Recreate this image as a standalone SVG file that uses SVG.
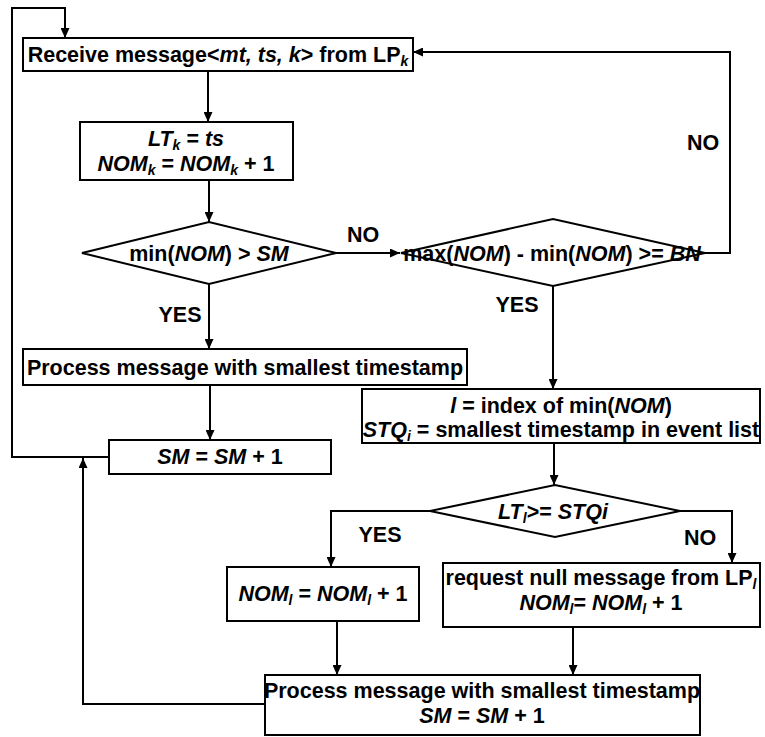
<svg xmlns="http://www.w3.org/2000/svg" width="765" height="737" viewBox="0 0 765 737">
<style>
.t{font-family:"Liberation Sans",Arial,Helvetica,sans-serif;font-size:21.5px;font-weight:bold;fill:#000;text-anchor:middle}
.i{font-style:italic}
.s{font-size:14px}
.box{fill:#fff;stroke:#000;stroke-width:2}
.ln{fill:none;stroke:#000;stroke-width:2}
.ar{marker-end:url(#ah)}
</style>
<defs>
<marker id="ah" markerUnits="userSpaceOnUse" markerWidth="11" markerHeight="9" refX="10" refY="4.5" orient="auto">
<path d="M0,0 L10,4.5 L0,9 Z" fill="#000"/>
</marker>
</defs>
<rect width="765" height="737" fill="#fff"/>
<g id="connectors">
<polyline class="ln ar" points="109,457 12,457 12,8 65,8 65,38"/>
<line class="ln ar" x1="208" y1="71" x2="208" y2="122"/>
<line class="ln ar" x1="209" y1="180" x2="209" y2="222"/>
<line class="ln ar" x1="209" y1="284" x2="209" y2="349"/>
<line class="ln ar" x1="210" y1="385" x2="210" y2="440"/>
<line class="ln ar" x1="336" y1="253" x2="400" y2="253"/>
<polyline class="ln ar" points="705,253 730,253 730,52 413,52"/>
<line class="ln ar" x1="553" y1="286" x2="553" y2="389"/>
<line class="ln ar" x1="554" y1="443" x2="554" y2="485"/>
<polyline class="ln ar" points="430,511 331,511 331,567"/>
<polyline class="ln ar" points="680,511 732,511 732,563"/>
<line class="ln ar" x1="337" y1="621" x2="337" y2="675"/>
<line class="ln ar" x1="573" y1="627" x2="573" y2="675"/>
<polyline class="ln ar" points="265,704 83,704 83,458"/>
<text class="t" x="363" y="242">NO</text>
<text class="t" x="703" y="150">NO</text>
<text class="t" x="180" y="322">YES</text>
<text class="t" x="517" y="312">YES</text>
<text class="t" x="380" y="542">YES</text>
<text class="t" x="700" y="545">NO</text>
</g>
<g id="n-receive">
<rect class="box" x="23" y="38" width="390" height="33"/>
<text class="t" x="218" y="62">Receive message&lt;<tspan class="i">mt, ts, k</tspan>&gt; from LP<tspan class="i s" dy="4">k</tspan></text>
</g>
<g id="n-update">
<rect class="box" x="80" y="122" width="213" height="58"/>
<text class="t" x="186" y="146"><tspan class="i">LT</tspan><tspan class="i s" dy="4">k</tspan><tspan dy="-4"> = </tspan><tspan class="i">ts</tspan></text>
<text class="t" x="186" y="171"><tspan class="i">NOM</tspan><tspan class="i s" dy="4">k</tspan><tspan dy="-4"> = </tspan><tspan class="i">NOM</tspan><tspan class="i s" dy="4">k</tspan><tspan dy="-4"> + 1</tspan></text>
</g>
<g id="d-min">
<polygon class="box" points="82,253 209,222 336,253 209,284"/>
<text class="t" x="209" y="261">min(<tspan class="i">NOM</tspan>) &gt; <tspan class="i">SM</tspan></text>
</g>
<g id="d-max">
<polygon class="box" points="401,253 553,219 705,253 553,286"/>
<text class="t" x="552" y="261">max(<tspan class="i">NOM</tspan>) - min(<tspan class="i">NOM</tspan>) &gt;= <tspan class="i">BN</tspan></text>
</g>
<g id="n-process1">
<rect class="box" x="23" y="349" width="444" height="36"/>
<text class="t" x="245" y="375">Process message with smallest timestamp</text>
</g>
<g id="n-sm">
<rect class="box" x="109" y="440" width="222" height="34"/>
<text class="t" x="220" y="464"><tspan class="i">SM</tspan> = <tspan class="i">SM</tspan> + 1</text>
</g>
<g id="n-index">
<rect class="box" x="362" y="389" width="398" height="54"/>
<text class="t" x="561" y="413"><tspan class="i">l</tspan> = index of min(<tspan class="i">NOM</tspan>)</text>
<text class="t" x="561" y="437"><tspan class="i">STQ</tspan><tspan class="i s" dy="4">i</tspan><tspan dy="-4"> = smallest timestamp in event list</tspan></text>
</g>
<g id="d-lt">
<polygon class="box" points="430,511 555,485 680,511 555,537"/>
<text class="t" x="553" y="519"><tspan class="i">LT</tspan><tspan class="i s" dy="4">l</tspan><tspan dy="-4">&gt;= </tspan><tspan class="i">STQi</tspan></text>
</g>
<g id="n-nom">
<rect class="box" x="227" y="567" width="192" height="54"/>
<text class="t" x="323" y="601"><tspan class="i">NOM</tspan><tspan class="i s" dy="4">l</tspan><tspan dy="-4"> = </tspan><tspan class="i">NOM</tspan><tspan class="i s" dy="4">l</tspan><tspan dy="-4"> + 1</tspan></text>
</g>
<g id="n-request">
<rect class="box" x="443" y="563" width="317" height="64"/>
<text class="t" x="601" y="585">request null message from LP<tspan class="i s" dy="4">l</tspan></text>
<text class="t" x="601" y="610"><tspan class="i">NOM</tspan><tspan class="i s" dy="4">l</tspan><tspan dy="-4">= </tspan><tspan class="i">NOM</tspan><tspan class="i s" dy="4">l</tspan><tspan dy="-4"> + 1</tspan></text>
</g>
<g id="n-process2">
<rect class="box" x="265" y="675" width="435" height="60"/>
<text class="t" x="482" y="698">Process message with smallest timestamp</text>
<text class="t" x="482" y="723"><tspan class="i">SM</tspan> = <tspan class="i">SM</tspan> + 1</text>
</g>
</svg>
